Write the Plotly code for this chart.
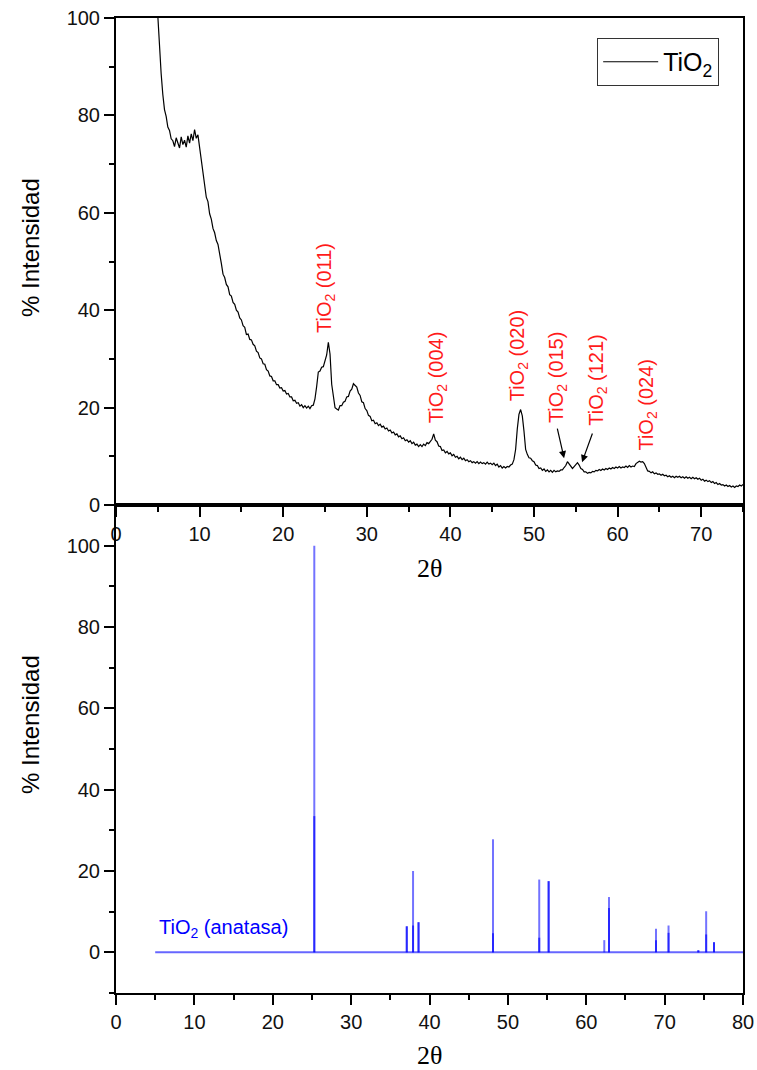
import numpy as np
import plotly.graph_objects as go

# ---- measured XRD pattern (2θ grid from 5° to 75°, step 0.2°) ----
two_theta = np.round(np.arange(5.0, 75.0001, 0.2), 1)
intensity = [
    100.5, 94.0, 88.6, 84.3, 81.2, 79.8, 77.6, 76.9, 75.2, 74.8,
    73.6, 75.4, 74.1, 73.3, 75.6, 74.0, 74.9, 73.5, 75.8, 74.3,
    76.2, 74.8, 77.1, 75.3, 76.0, 73.4, 71.2, 68.6, 65.9, 63.2,
    62.3, 59.8, 58.7, 56.8, 55.9, 54.3, 53.5, 51.8, 49.6, 47.4,
    46.7, 45.3, 44.8, 43.2, 42.9, 41.6, 41.2, 40.0, 39.6, 38.4,
    38.0, 36.8, 36.5, 35.0, 35.1, 34.0, 33.9, 33.0, 32.7, 31.6,
    31.3, 30.2, 30.0, 29.0, 28.9, 27.8, 27.5, 26.5, 26.4, 25.5,
    25.5, 24.7, 24.7, 24.0, 24.1, 23.4, 23.5, 22.8, 22.9, 22.2,
    22.2, 21.4, 21.5, 20.9, 21.0, 20.3, 20.6, 20.0, 20.4, 19.9,
    20.3, 19.8, 20.4, 20.5, 21.8, 24.3, 27.3, 27.5, 28.3, 28.4,
    29.5, 30.8, 33.4, 31.0, 24.8, 21.7, 20.0, 19.7, 19.5, 20.4,
    20.4, 21.1, 21.3, 22.2, 22.3, 23.4, 23.8, 24.9, 24.5, 24.2,
    23.0, 22.5, 21.2, 21.0, 19.8, 19.4, 18.4, 18.2, 17.3, 17.4,
    16.7, 16.9, 16.3, 16.6, 16.0, 16.2, 15.6, 15.8, 15.2, 15.4,
    14.8, 15.0, 14.4, 14.6, 14.0, 14.2, 13.6, 13.8, 13.2, 13.4,
    12.9, 13.2, 12.6, 12.9, 12.3, 12.5, 12.0, 12.4, 12.0, 12.5,
    12.2, 12.8, 12.6, 13.2, 13.5, 14.6, 13.3, 13.0, 12.1, 12.0,
    11.2, 11.3, 10.7, 11.0, 10.5, 10.7, 10.1, 10.4, 9.8, 10.0,
    9.5, 9.8, 9.3, 9.6, 9.1, 9.3, 8.9, 9.1, 8.7, 8.9,
    8.6, 8.9, 8.5, 8.8, 8.5, 8.7, 8.4, 8.8, 8.4, 8.6,
    8.3, 8.6, 8.1, 8.4, 7.8, 8.1, 7.6, 7.9, 7.6, 7.9,
    7.8, 8.2, 8.4, 9.3, 11.4, 15.6, 18.6, 19.6, 18.3, 15.2,
    11.4, 10.4, 9.7, 9.6, 9.1, 8.9, 8.2, 8.1, 7.5, 7.6,
    7.1, 7.4, 6.9, 7.2, 6.8, 7.1, 6.7, 7.1, 6.8, 7.0,
    6.9, 7.2, 7.2, 7.7, 8.1, 8.9, 8.4, 7.8, 7.5, 7.9,
    8.4, 8.7, 8.2, 7.5, 7.3, 6.8, 6.8, 6.5, 6.7, 6.6,
    6.9, 6.8, 7.1, 7.0, 7.3, 7.1, 7.4, 7.2, 7.5, 7.3,
    7.6, 7.4, 7.7, 7.5, 7.8, 7.6, 7.9, 7.6, 7.8, 7.7,
    8.0, 7.7, 8.1, 7.8, 8.0, 7.9, 8.5, 8.8, 9.0, 8.8,
    8.9, 8.5, 7.6, 7.0, 6.9, 6.6, 6.8, 6.4, 6.6, 6.3,
    6.4, 6.1, 6.3, 6.0, 6.1, 5.8, 6.0, 5.7, 5.9, 5.6,
    5.9, 5.7, 5.9, 5.6, 5.8, 5.5, 5.8, 5.5, 5.7, 5.4,
    5.7, 5.4, 5.6, 5.3, 5.5, 5.1, 5.3, 4.9, 5.1, 4.8,
    5.0, 4.6, 4.8, 4.4, 4.6, 4.2, 4.4, 4.1, 4.2, 3.9,
    4.1, 3.8, 4.0, 3.7, 3.9, 3.6, 3.9, 3.8, 4.1, 3.9,
    4.2,
]

# ---- peak labels on the measured pattern ----
label_text = ["TiO<sub>2</sub> (011)", "TiO<sub>2</sub> (004)", "TiO<sub>2</sub> (020)",
              "TiO<sub>2</sub> (015)", "TiO<sub>2</sub> (121)", "TiO<sub>2</sub> (024)"]
label_x = [25.0, 38.4, 48.1, 52.75, 57.5, 63.6]
label_y = [34.9, 16.4, 20.9, 16.4, 15.8, 10.7]

# arrows: (tail x, tail y) -> (head x, head y)
arrow_tail_x = [52.75, 57.05]
arrow_tail_y = [16.0, 15.0]
arrow_head_x = [53.6, 55.75]
arrow_head_y = [9.6, 8.8]

# ---- anatase reference pattern (stick positions and intensities) ----
ref_pos = [25.3, 37.1, 37.9, 38.6, 48.1, 54.0, 55.2, 62.3, 62.9, 68.9, 70.5, 74.3, 75.3, 76.3]
ref_int_a1 = [100.0, 6.4, 20.0, 7.4, 27.8, 17.9, 17.5, 3.0, 13.6, 5.8, 6.6, 0.5, 10.1, 2.5]
ref_int_a2 = [33.5, 6.4, 6.6, 7.4, 4.7, 3.6, 17.5, 0.0, 10.9, 3.0, 4.8, 0.5, 4.4, 2.5]
ref_span = [5.0, 80.0]


def sticks(pos, heights):
    xs, ys = [], []
    for p, h in zip(pos, heights):
        if h <= 0:
            continue
        xs += [p, p, None]
        ys += [0, h, None]
    return xs, ys


FONT = "Liberation Sans, Arial, sans-serif"
SERIF = "Liberation Serif, Times New Roman, serif"

fig = go.Figure()

fig.add_trace(go.Scatter(
    x=two_theta, y=intensity, mode="lines", name="TiO<sub>2</sub>",
    line=dict(color="black", width=1.2), xaxis="x", yaxis="y",
))

sx1, sy1 = sticks(ref_pos, ref_int_a1)
sx2, sy2 = sticks(ref_pos, ref_int_a2)
fig.add_trace(go.Scatter(
    x=ref_span, y=[0, 0], mode="lines", showlegend=False,
    line=dict(color="rgba(0,0,255,0.6)", width=2), xaxis="x2", yaxis="y2",
))
fig.add_trace(go.Scatter(
    x=sx1, y=sy1, mode="lines", showlegend=False,
    line=dict(color="rgba(0,0,255,0.55)", width=2), xaxis="x2", yaxis="y2",
))
fig.add_trace(go.Scatter(
    x=sx2, y=sy2, mode="lines", showlegend=False,
    line=dict(color="rgba(0,0,255,0.65)", width=2), xaxis="x2", yaxis="y2",
))

axis_common = dict(
    showline=True, linecolor="black", linewidth=2, mirror=True,
    ticks="outside", ticklen=10, tickwidth=2, tickcolor="black",
    showgrid=False, zeroline=False, automargin=False,
    tickfont=dict(family=FONT, size=20, color="#111"),
)
minor_ticks = dict(ticklen=5, tickwidth=2, tickcolor="black", ticks="outside", showgrid=False)

split = 488 / 975

fig.update_layout(
    width=757, height=1070,
    margin=dict(l=116, r=14, t=18, b=77, autoexpand=False),
    paper_bgcolor="white", plot_bgcolor="white",
    showlegend=True,
    legend=dict(
        x=0.962, y=0.9795, xanchor="right", yanchor="top",
        bgcolor="white", bordercolor="#333", borderwidth=1,
        itemwidth=55,
        font=dict(family=FONT, size=25, color="black"),
    ),
    xaxis=dict(axis_common, domain=[0, 1], anchor="y", range=[0, 75],
               tick0=0, dtick=10, minor=dict(minor_ticks, dtick=5)),
    yaxis=dict(axis_common, domain=[split, 1], anchor="x", range=[0, 100],
               tick0=0, dtick=20, minor=dict(minor_ticks, dtick=10)),
    xaxis2=dict(axis_common, domain=[0, 1], anchor="y2", range=[0, 80],
                tick0=0, dtick=10, minor=dict(minor_ticks, dtick=5)),
    yaxis2=dict(axis_common, domain=[0, split], anchor="x2", range=[-10, 110],
                tick0=0, dtick=20, minor=dict(minor_ticks, dtick=10)),
)

annotations = []
for t, x, y in zip(label_text, label_x, label_y):
    annotations.append(dict(
        text=t, x=x, y=y, xref="x", yref="y", showarrow=False,
        textangle=-90, xanchor="center", yanchor="bottom",
        font=dict(family=FONT, size=20, color="#ff1a1a"),
    ))
for tx, ty, hx, hy in zip(arrow_tail_x, arrow_tail_y, arrow_head_x, arrow_head_y):
    annotations.append(dict(
        text="", x=hx, y=hy, ax=tx, ay=ty, xref="x", yref="y",
        axref="x", ayref="y", showarrow=True, arrowhead=2,
        arrowsize=1.2, arrowwidth=1.2, arrowcolor="black",
    ))

# reference pattern label
annotations.append(dict(
    text="TiO<sub>2</sub> (anatasa)", x=5.2, y=5.9, xref="x2", yref="y2",
    showarrow=False, xanchor="left", yanchor="middle",
    font=dict(family=FONT, size=20, color="blue"),
))

# axis titles
for yc in [(993 - 248) / 975, (993 - 725) / 975]:
    annotations.append(dict(
        text="% Intensidad", x=0, y=yc, xref="paper", yref="paper",
        xshift=-86, showarrow=False, textangle=-90,
        xanchor="center", yanchor="middle",
        font=dict(family=FONT, size=24, color="black"),
    ))
for yc in [(993 - 568) / 975, (993 - 1055) / 975]:
    annotations.append(dict(
        text="2θ", x=0.5, y=yc, xref="paper", yref="paper",
        showarrow=False, xanchor="center", yanchor="middle",
        font=dict(family=SERIF, size=26, color="black"),
    ))

fig.update_layout(annotations=annotations)

fig.write_html("out.html")
